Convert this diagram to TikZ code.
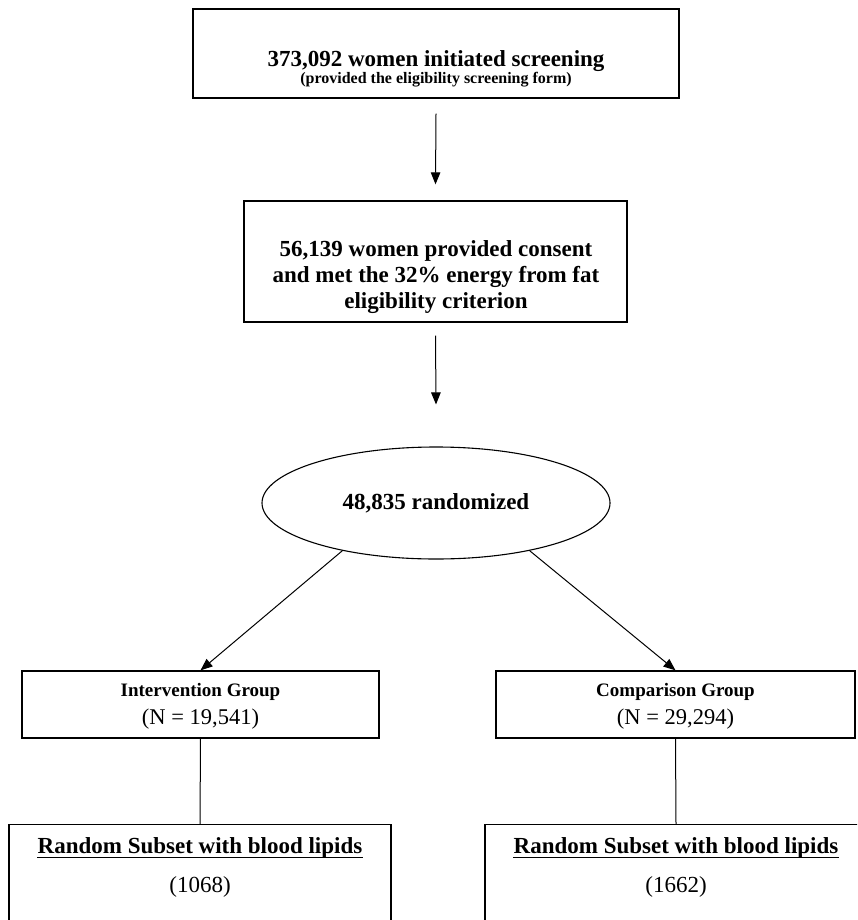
\documentclass[tikz,border=0pt]{standalone}
\usepackage{fontspec}
\setmainfont{Liberation Serif}
\usetikzlibrary{arrows.meta,shapes.geometric}
\tikzset{
  box/.style={draw, rectangle, line width=1.3pt, inner sep=0pt},
  oval/.style={draw, ellipse, line width=1.1pt, inner sep=0pt},
  txt/.style={inner sep=0pt, align=center, anchor=base},
  bigb/.style={font=\fontsize{23}{26}\selectfont\bfseries},
  bigr/.style={font=\fontsize{23}{26}\selectfont},
  arr/.style={line width=1pt, -{Triangle[length=12pt,width=9.5pt]}},
  link/.style={line width=1pt},
  uline/.style={line width=1.4pt}
}
\begin{document}
\begin{tikzpicture}[x=1pt,y=-1pt]
\clip (0,0) rectangle (857,920);
\fill[white] (0,0) rectangle (857,920);

% boxes
\node[box, minimum width=486pt, minimum height=89pt] (b1) at (436,53.5) {};
\node[box, minimum width=383pt, minimum height=121pt] (b2) at (435.5,261.5) {};
\node[oval, minimum width=348pt, minimum height=112pt, bigb] (ell) at (436,503) {48,835 randomized};
\node[box, minimum width=357pt, minimum height=67pt] (ig) at (200.5,704.5) {};
\node[box, minimum width=359pt, minimum height=67pt] (cg) at (675.5,704.5) {};
\node[box, anchor=north, minimum width=382pt, minimum height=140pt] (ls) at (200,824) {};
\node[box, anchor=north, minimum width=382pt, minimum height=140pt] (rs) at (676,824) {};

% texts
\node[txt, bigb] (b1t) at (436,67) {373,092 women initiated screening};
\node[txt, font=\fontsize{16}{18}\selectfont\bfseries] (b1s) at (436,83.5) {(provided the eligibility screening form)};
\node[txt, bigb] (b2t) at (436,308) {56,139 women provided consent\\and met the 32\% energy from fat\\eligibility criterion};
\node[txt, font=\fontsize{19}{22}\selectfont\bfseries] (igt) at (200.5,696) {Intervention Group};
\node[txt, font=\fontsize{22.5}{26}\selectfont] (ign) at (200.5,724) {(N = 19,541)};
\node[txt, font=\fontsize{19}{22}\selectfont\bfseries] (cgt) at (675.5,696) {Comparison Group};
\node[txt, font=\fontsize{22.5}{26}\selectfont] (cgn) at (675.5,724) {(N = 29,294)};
\node[txt, bigb] (lst) at (200,853) {Random Subset with blood lipids};
\node[txt, bigr] (lsn) at (200,892) {(1068)};
\node[txt, bigb] (rst) at (676,853) {Random Subset with blood lipids};
\node[txt, bigr] (rsn) at (676,892) {(1662)};
\draw[uline] ([yshift=-4.5pt]lst.base west) -- ([yshift=-4.5pt]lst.base east);
\draw[uline] ([yshift=-4.5pt]rst.base west) -- ([yshift=-4.5pt]rst.base east);

% connectors
\draw[arr] ([yshift=-15pt]b1.south) -- ([yshift=16pt]b2.north);
\draw[arr] ([yshift=-13pt]b2.south) -- ([yshift=42pt]ell.north);
\draw[arr] (ell.207) -- (ig.north);
\draw[arr] (ell.333) -- (cg.north);
\draw[link] (ig.south) -- (ls.north);
\draw[link] (cg.south) -- (rs.north);
\end{tikzpicture}
\end{document}
